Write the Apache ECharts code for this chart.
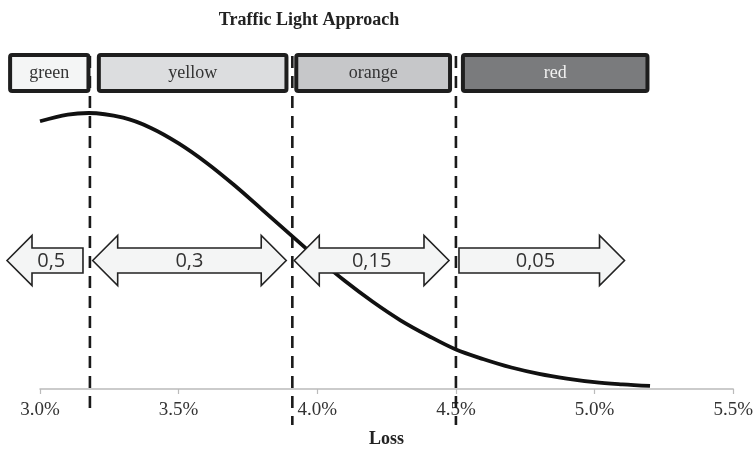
<!DOCTYPE html>
<html><head><meta charset="utf-8">
<script src="https://cdn.jsdelivr.net/npm/echarts@6/dist/echarts.min.js"></script>
<style>html,body{margin:0;padding:0;background:#fff}#c{width:756px;height:454px}</style>
</head><body><div id="c"></div>
<script>
// Data
const lossX = [3.0, 3.1, 3.175, 3.3, 3.4, 3.5, 3.6, 3.7, 3.8, 3.9, 4.0, 4.1, 4.2, 4.3, 4.4, 4.5, 4.6, 4.7, 4.8, 4.9, 5.0, 5.1, 5.2];
const density = [97, 99.4, 100, 98.3, 94.6, 89, 82, 73.9, 65.1, 56.2, 47.4, 39.1, 31.6, 24.9, 19.3, 14.3, 10.8, 7.8, 5.5, 3.8, 2.5, 1.7, 1.1];
const thresholds = [3.18, 3.91, 4.5];
const zoneLabels = ['green', 'yellow', 'orange', 'red'];
const zoneFrom = [2.885, 3.205, 3.917, 4.518];
const zoneTo = [3.182, 3.896, 4.486, 5.198];
const weightLabels = ['0,5', '0,3', '0,15', '0,05'];
const weightFrom = [2.881, 3.19, 3.917, 4.511];
const weightTo = [3.155, 3.888, 4.475, 5.108];
const weightDir = ['left', 'both', 'both', 'right'];
const xTicks = [3.0, 3.5, 4.0, 4.5, 5.0, 5.5];

// Styles
const zoneFill = ['#f4f5f5', '#dcdddf', '#c6c7c9', '#7a7b7d'];
const zoneText = ['#333', '#333', '#333', '#f2f2f2'];
const lineBottoms = [410, 425, 425];
const serif = '"Liberation Serif", "Times New Roman", serif';

const chart = echarts.init(document.getElementById('c'));
const curve = lossX.map((x, i) => [x, density[i]]);

chart.setOption({
  animation: false,
  title: {
    text: 'Traffic Light Approach', left: 304, top: 6, textAlign: 'center',
    textStyle: { fontFamily: serif, fontWeight: 'bold', fontSize: 18, color: '#222' }
  },
  grid: { left: 40, right: 21, top: 113, bottom: 65 },
  xAxis: {
    type: 'value', min: 3.0, max: 5.5, interval: 0.5,
    name: 'Loss', nameLocation: 'middle', nameGap: 41,
    nameTextStyle: { fontFamily: serif, fontWeight: 'bold', fontSize: 18, color: '#222' },
    axisLine: { lineStyle: { color: '#bbb', width: 1.5 } },
    axisTick: { show: true, length: 5, inside: false, lineStyle: { color: '#bbb', width: 1.2 } },
    splitLine: { show: false },
    axisLabel: {
      margin: 12, fontFamily: serif, fontSize: 19, color: '#333',
      formatter: v => xTicks.some(t => Math.abs(t - v) < 1e-9) ? v.toFixed(1) + '%' : ''
    }
  },
  yAxis: { type: 'value', min: 0, max: 100, show: false },
  series: [
    {
      type: 'custom', z: 1, silent: true,
      data: thresholds.map((t, i) => [t, i]),
      renderItem: (params, api) => {
        const x = api.coord([api.value(0), 0])[0];
        const b = lineBottoms[api.value(1)];
        return {
          type: 'line', shape: { x1: x, y1: 56, x2: x, y2: b },
          style: { stroke: '#1a1a1a', lineWidth: 2.6, lineDash: [12, 8] }
        };
      }
    },
    {
      type: 'line', data: curve, smooth: 0.35, symbol: 'none', z: 3,
      lineStyle: { color: '#111', width: 3.8 }
    },
    {
      type: 'custom', z: 5, silent: true,
      data: zoneLabels.map((l, i) => [zoneFrom[i], zoneTo[i], i]),
      renderItem: (params, api) => {
        const x0 = api.coord([api.value(0), 0])[0];
        const x1 = api.coord([api.value(1), 0])[0];
        const i = api.value(2);
        return {
          type: 'group', children: [
            { type: 'rect', shape: { x: x0 + 2, y: 55, width: x1 - x0 - 4, height: 36, r: 2 },
              style: { fill: zoneFill[i], stroke: '#1e1e1e', lineWidth: 4 } },
            { type: 'text', style: { text: zoneLabels[i], x: (x0 + x1) / 2, y: 73, align: 'center', verticalAlign: 'middle',
              fontFamily: serif, fontSize: 18, fill: zoneText[i] } }
          ]
        };
      }
    },
    {
      type: 'custom', z: 6, silent: true,
      data: weightLabels.map((l, i) => [weightFrom[i], weightTo[i], i]),
      renderItem: (params, api) => {
        const x0 = api.coord([api.value(0), 0])[0];
        const x1 = api.coord([api.value(1), 0])[0];
        const i = api.value(2);
        const dir = weightDir[i];
        const yc = 260.5, hh = 25, bh = 12.5, hl = 25;
        let pts;
        if (dir === 'left') {
          pts = [[x0, yc], [x0 + hl, yc - hh], [x0 + hl, yc - bh], [x1, yc - bh], [x1, yc + bh], [x0 + hl, yc + bh], [x0 + hl, yc + hh]];
        } else if (dir === 'right') {
          pts = [[x0, yc - bh], [x1 - hl, yc - bh], [x1 - hl, yc - hh], [x1, yc], [x1 - hl, yc + hh], [x1 - hl, yc + bh], [x0, yc + bh]];
        } else {
          pts = [[x0, yc], [x0 + hl, yc - hh], [x0 + hl, yc - bh], [x1 - hl, yc - bh], [x1 - hl, yc - hh], [x1, yc],
                 [x1 - hl, yc + hh], [x1 - hl, yc + bh], [x0 + hl, yc + bh], [x0 + hl, yc + hh]];
        }
        let cx = (x0 + x1) / 2;
        if (dir === 'left') cx = ((x0 + x1) / 2 + (x0 + hl + x1) / 2) / 2;
        if (dir === 'right') cx = ((x0 + x1) / 2 + (x0 + x1 - hl) / 2) / 2;
        return {
          type: 'group', children: [
            { type: 'polygon', shape: { points: pts }, style: { fill: '#f4f5f5', stroke: '#222', lineWidth: 1.6 } },
            { type: 'text', style: { text: weightLabels[i], x: cx, y: yc + 1, align: 'center', verticalAlign: 'middle',
              fontFamily: '"Open Sans", "DejaVu Sans", sans-serif', fontSize: 20, fill: '#333' } }
          ]
        };
      }
    }
  ]
});
</script></body></html>
